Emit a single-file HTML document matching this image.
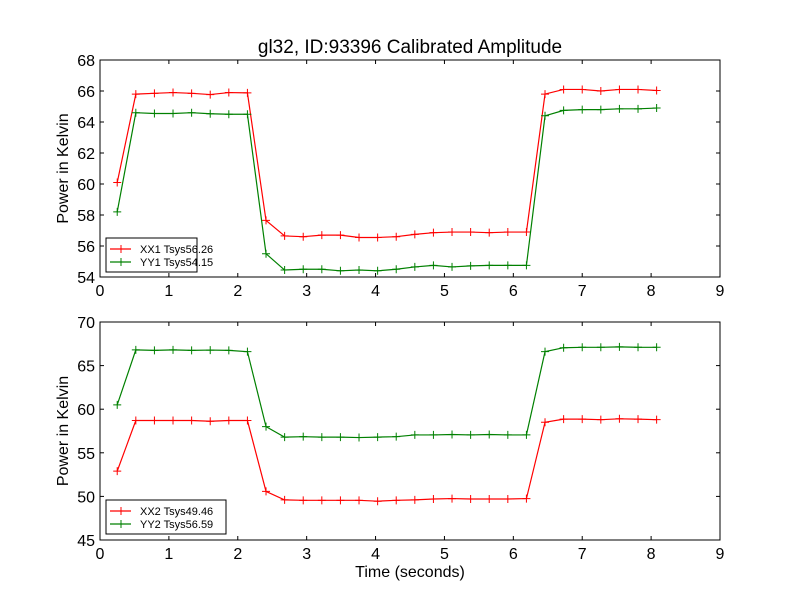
<!DOCTYPE html>
<html><head><meta charset="utf-8"><style>
body{margin:0;background:#fff;width:800px;height:600px;overflow:hidden}
svg{display:block;font-family:"Liberation Sans","DejaVu Sans",sans-serif}
</style></head><body>
<svg id="fig" width="800" height="600" viewBox="0 0 800 600">
<rect width="800" height="600" fill="#fff"/>
<text x="410" y="53" font-size="19" text-anchor="middle">gl32, ID:93396 Calibrated Amplitude</text>
</svg>
<script>
const times=[0.25,0.52,0.79,1.06,1.33,1.60,1.87,2.14,2.41,2.68,2.95,3.22,3.49,3.76,4.03,4.30,4.57,4.84,5.11,5.38,5.65,5.92,6.19,6.46,6.73,7.00,7.27,7.54,7.81,8.08];
const xx1=[60.1,65.8,65.85,65.9,65.85,65.77,65.9,65.88,57.65,56.65,56.6,56.7,56.7,56.55,56.55,56.6,56.75,56.86,56.9,56.9,56.86,56.9,56.9,65.8,66.1,66.1,66.0,66.1,66.1,66.03];
const yy1=[58.2,64.6,64.55,64.55,64.6,64.53,64.5,64.5,55.5,54.45,54.5,54.5,54.4,54.45,54.4,54.5,54.65,54.75,54.65,54.72,54.75,54.75,54.75,64.4,64.75,64.8,64.8,64.85,64.85,64.9];
const xx2=[52.9,58.7,58.7,58.7,58.7,58.62,58.7,58.7,50.57,49.6,49.55,49.55,49.55,49.55,49.45,49.55,49.6,49.7,49.75,49.7,49.7,49.7,49.75,58.5,58.86,58.86,58.8,58.9,58.86,58.8];
const yy2=[60.5,66.8,66.75,66.8,66.75,66.78,66.75,66.6,58.0,56.8,56.85,56.8,56.8,56.75,56.8,56.85,57.05,57.05,57.1,57.05,57.1,57.05,57.05,66.6,67.05,67.1,67.1,67.15,67.1,67.1];
const xTicks=[0,1,2,3,4,5,6,7,8,9];
const yTicksTop=[54,56,58,60,62,64,66,68];
const yTicksBot=[45,50,55,60,65,70];
const legendTop=["XX1 Tsys56.26","YY1 Tsys54.15"];
const legendBot=["XX2 Tsys49.46","YY2 Tsys56.59"];
const NS="http://www.w3.org/2000/svg";
const svg=document.getElementById('fig');
function mk(tag,attrs,parent){const e=document.createElementNS(NS,tag);for(const k in attrs)e.setAttribute(k,attrs[k]);(parent||svg).appendChild(e);return e;}
function panel(top,bot,ymin,ymax,yTicks,series,labels,legY,id,xlabel){
  const L=100,R=720;
  const xs=v=>L+(v-0)/(9-0)*(R-L);
  const ys=v=>bot-(v-ymin)/(ymax-ymin)*(bot-top);
  const g=mk('g',{});
  
  
  xTicks.forEach(t=>{
    const x=xs(t);
    mk('line',{x1:x,y1:bot,x2:x,y2:bot-4,stroke:'#000'},g);
    mk('line',{x1:x,y1:top,x2:x,y2:top+4,stroke:'#000'},g);
    const tx=mk('text',{x:x,y:bot+19,'font-size':16,'text-anchor':'middle'},g);
    tx.textContent=t;
    
    
  });
  yTicks.forEach(t=>{
    const y=ys(t);
    mk('line',{x1:L,y1:y,x2:L+4,y2:y,stroke:'#000'},g);
    mk('line',{x1:R,y1:y,x2:R-4,y2:y,stroke:'#000'},g);
    const tx=mk('text',{x:L-5,y:y+6,'font-size':16,'text-anchor':'end'},g);
    tx.textContent=t;
    
    
  });
  const yl=mk('text',{x:68,y:(top+bot)/2,'font-size':16,'text-anchor':'middle',transform:`rotate(-90 68 ${(top+bot)/2})`},g);
  yl.textContent='Power in Kelvin';
  
  
  const colors=['#ff0000','#008000'];
  series.forEach((s,si)=>{
    const pts=s.map((v,i)=>xs(times[i])+','+ys(v)).join(' ');
    const pl=mk('polyline',{points:pts,fill:'none',stroke:colors[si],'stroke-width':1.2},g);
    
    
    s.forEach((v,i)=>{
      const x=xs(times[i]),y=ys(v);
      mk('path',{d:`M${x-4} ${y}H${x+4}M${x} ${y-4}V${y+4}`,stroke:colors[si],'stroke-width':1},g);
    });
  });
  mk('rect',{x:L,y:top,width:R-L,height:bot-top,fill:'none',stroke:'#000','stroke-width':1},g);
  const lg=mk('g',{},g);
  
  
  mk('rect',{x:106,y:legY,width:lg?(id==='top'?91:120):91,height:34,fill:'#fff',stroke:'#000','stroke-width':1},lg);
  labels.forEach((lab,i)=>{
    const y=legY+11+i*13;
    mk('line',{x1:110,y1:y,x2:131,y2:y,stroke:colors[i],'stroke-width':1.2},lg);
    mk('path',{d:`M117 ${y}h8M121 ${y-4}v8`,stroke:colors[i]},lg);
    const t=mk('text',{x:140,y:y+4,'font-size':11},lg);
    t.textContent=lab;
    
    
  });
  if(xlabel){
    const xt=mk('text',{x:410,y:577,'font-size':16,'text-anchor':'middle'},g);
    xt.textContent=xlabel;
    
    
  }
}
panel(60,277,54,68,yTicksTop,[xx1,yy1],legendTop,238,'top',null);
panel(322,540,45,70,yTicksBot,[xx2,yy2],legendBot,500,'bottom','Time (seconds)');
</script>
</body></html>
